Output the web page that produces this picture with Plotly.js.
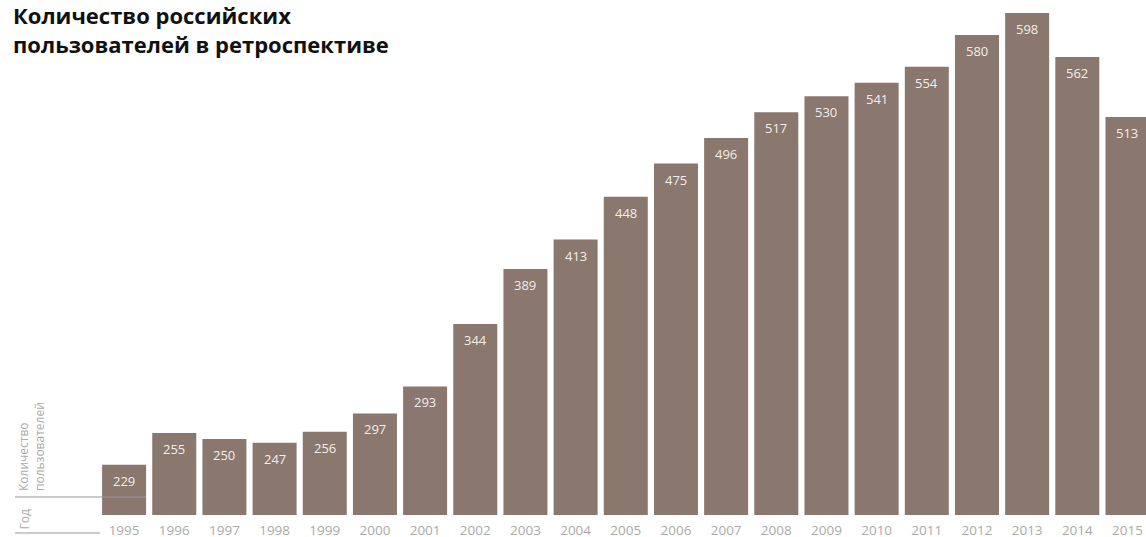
<!DOCTYPE html>
<html>
<head>
<meta charset="utf-8">
<script src="https://cdn.plot.ly/plotly-3.0.1.min.js"></script>
<style>html,body{margin:0;padding:0;overflow:hidden;background:#fff}</style>
</head>
<body>
<div id="chart" style="width:1146px;height:537px"></div>
<script>
const years = [1995,1996,1997,1998,1999,2000,2001,2002,2003,2004,2005,2006,2007,2008,2009,2010,2011,2012,2013,2014,2015];
// bar heights as drawn in the picture (the 2000 bar is drawn lower than its label)
const users = [229,255,250,247,256,271,293,344,389,413,448,475,496,517,530,541,554,580,598,562,513];
// value labels as printed on the bars
const barLabels = ['229','255','250','247','256','297','293','344','389','413','448','475','496','517','530','541','554','580','598','562','513'];
const tickLabels = years.map(String);

const W = 1146, L = 99, R = 0;
const pw = W - L - R;
const ph = 502;
const px = v => (v - L) / pw;
const py = v => (515 - v) / ph;

const trace = {
  type: 'bar',
  x: years,
  y: users,
  marker: {color: '#8a776d'},
  hoverinfo: 'none',
  cliponaxis: true
};

const valueNotes = years.map((yr, i) => ({
  x: yr, y: users[i], xref: 'x', yref: 'y', text: barLabels[i],
  showarrow: false, xanchor: 'center', yanchor: 'middle', yshift: -16,
  font: {family: 'Open Sans', size: 13, color: '#f3eeeb'}
}));

const layout = {
  width: 1146, height: 537,
  margin: {l: L, r: R, t: 13, b: 22, pad: 0},
  paper_bgcolor: '#fff', plot_bgcolor: '#fff',
  bargap: 0.123,
  showlegend: false,
  xaxis: {
    type: 'linear',
    range: [1994.5, 1994.5 + pw/50.17],
    tickvals: years, ticktext: tickLabels,
    showgrid: false, zeroline: false, showline: false, ticks: '',
    ticklabelstandoff: 5,
    tickfont: {family: 'Open Sans', size: 13.5, color: '#aaaaaa'},
    fixedrange: true
  },
  yaxis: {
    range: [188, 598],
    showgrid: false, zeroline: false, showline: false, showticklabels: false, ticks: '',
    fixedrange: true
  },
  shapes: [
    {type: 'line', xref: 'paper', yref: 'paper', x0: px(15), x1: px(146), y0: py(497), y1: py(497),
     line: {color: '#999', width: 1}},
    {type: 'line', xref: 'paper', yref: 'paper', x0: px(15), x1: px(100), y0: py(533), y1: py(533),
     line: {color: '#999', width: 1}}
  ],
  annotations: [
    {text: 'Количество российских<br>пользователей в ретроспективе', xref: 'paper', yref: 'paper',
     x: px(11), y: py(-2), xanchor: 'left', yanchor: 'top', showarrow: false, align: 'left',
     font: {family: 'Open Sans', size: 22, color: '#111', weight: 700}},
    {text: 'Количество<br>пользователей', xref: 'paper', yref: 'paper', x: px(13), y: py(493),
     xanchor: 'left', yanchor: 'bottom', textangle: -90, showarrow: false, align: 'left',
     font: {family: 'Open Sans', size: 12, color: '#aaaaaa'}},
    {text: 'Год', xref: 'paper', yref: 'paper', x: px(13), y: py(532),
     xanchor: 'left', yanchor: 'bottom', textangle: -90, showarrow: false, align: 'left',
     font: {family: 'Open Sans', size: 12, color: '#aaaaaa'}}
  ].concat(valueNotes)
};

Plotly.newPlot('chart', [trace], layout, {displayModeBar: false, staticPlot: true});
</script>
</body>
</html>
